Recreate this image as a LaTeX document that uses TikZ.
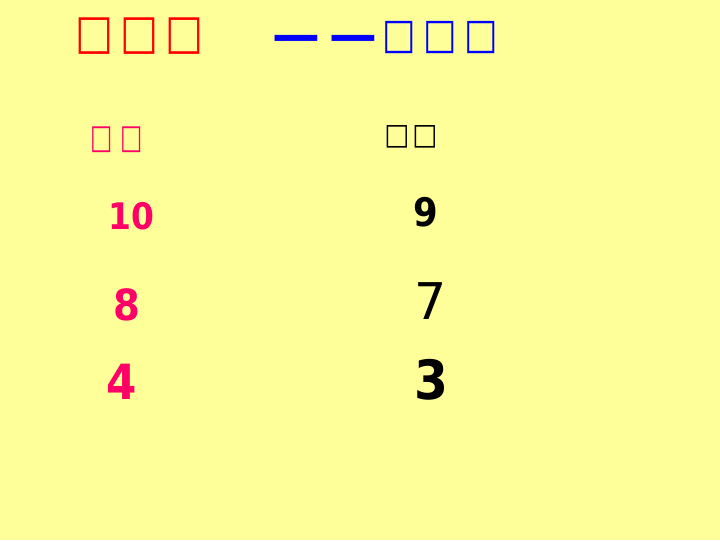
\documentclass[tikz,border=0pt]{standalone}
\usepackage{fontspec}
\usepackage{graphicx}
\setmainfont{DejaVu Sans}
\newfontfamily\boxfont{DejaVu Sans}
\definecolor{bgyellow}{HTML}{FFFF99}
\definecolor{titlered}{HTML}{FF0000}
\definecolor{titleblue}{HTML}{0000FF}
\definecolor{numpink}{HTML}{FF0066}
\newcommand{\tofu}{\scalebox{0.84}[1]{□}}
\newcommand{\narrowdigits}[1]{\scalebox{0.9}[1]{#1}}
\tikzset{
  lbl/.style={inner sep=0pt, anchor=center},
}
\begin{document}
\begin{tikzpicture}[x=0.025cm,y=-0.025cm]
		\fill[bgyellow] (0,0) rectangle (720,540);
		% title
		\foreach \i in {0,1,2}
			\node[lbl,titlered,font=\boxfont\fontsize{34}{34}\selectfont](T1\i) at (94.5+45*\i,36.5) {\tofu};
		\node[lbl,titleblue,font=\boxfont\bfseries\fontsize{34}{34}\selectfont](D) at (325,43) {—\hspace{6pt}—};
		\foreach \i in {0,1,2}
			\node[lbl,titleblue,font=\boxfont\fontsize{30}{30}\selectfont](T2\i) at (399.5+41*\i,37.5) {\tofu};
		% column heads
		\foreach \i in {0,1}
			\node[lbl,numpink,font=\boxfont\fontsize{24}{24}\selectfont](H1\i) at (101.5+30*\i,140) {\scalebox{0.7}[1]{□}};
		\foreach \i in {0,1}
			\node[lbl,black,font=\boxfont\bfseries\fontsize{21}{21}\selectfont](H2\i) at (397+28*\i,136.5) {\scalebox{0.9}[1]{□}};
		% numbers
		\node[lbl,numpink,font=\bfseries\fontsize{26}{26}\selectfont](A) at (131,216) {\narrowdigits{10}};
		\node[lbl,black,font=\bfseries\fontsize{28}{28}\selectfont](B) at (426,212) {\narrowdigits{9}};
		\node[lbl,numpink,font=\bfseries\fontsize{30.5}{30.5}\selectfont](C) at (126.5,304.5) {\narrowdigits{8}};
		\node[lbl,black,font=\fontsize{36}{36}\selectfont](E) at (430.5,301) {7};
		\node[lbl,numpink,font=\bfseries\fontsize{34.5}{34.5}\selectfont](F) at (121.5,381.5) {\narrowdigits{4}};
		\node[lbl,black,font=\bfseries\fontsize{38.5}{38.5}\selectfont](G) at (431.5,379.5) {\narrowdigits{3}};
\end{tikzpicture}
\end{document}
